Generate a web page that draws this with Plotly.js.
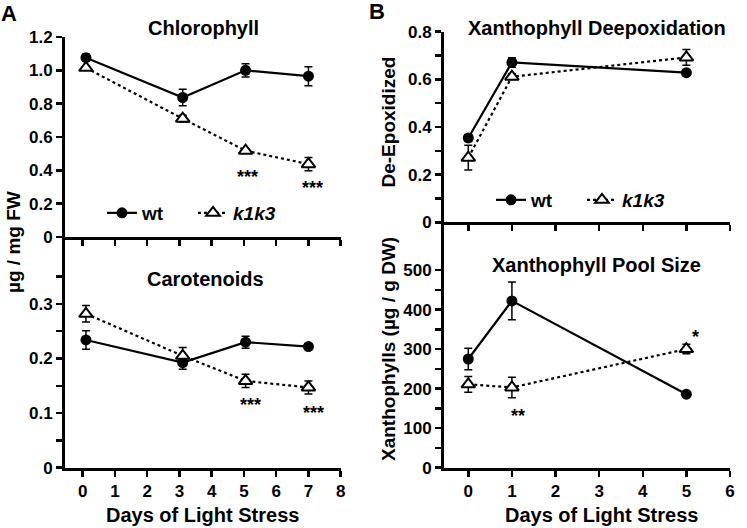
<!DOCTYPE html>
<html>
<head>
<meta charset="utf-8">
<script src="https://cdn.plot.ly/plotly-3.0.1.min.js"></script>
<style>
	html, body { margin: 0; padding: 0; background: #fff; }
	#chart { width: 747px; height: 528px; }
</style>
</head>
<body>
<div id="chart"></div>
<script>
(function(){

	'use strict';

	/*
	Panel A - days of light stress
	*/
	const daysA = [0.1, 3.1, 5.05, 7];

	const chlWt = [1.076, 0.837, 1.0, 0.965];
	const chlWtErr = [0.02, 0.05, 0.04, 0.057];
	const chlK = [1.015, 0.71, 0.518, 0.437];
	const chlKErr = [0.012, 0.02, 0.012, 0.04];

	const carWt = [0.234, 0.1925, 0.23, 0.222];
	const carWtErr = [0.017, 0.012, 0.011, 0.005];
	const carK = [0.282, 0.205, 0.159, 0.147];
	const carKErr = [0.015, 0.015, 0.012, 0.012];

	/*
	Panel B
	*/
	const daysB = [0, 1, 5];

	const deWt = [0.354, 0.671, 0.628];
	const deWtErr = [0.015, 0.02, 0.01];
	const deK = [0.271, 0.611, 0.692];
	const deKErr = [0.052, 0.012, 0.033];

	const poolWt = [275, 422, 186];
	const poolWtErr = [27, 48, 5];
	const poolK = [211, 203, 300];
	const poolKErr = [20, 26, 12];

	// significance stars
	const starsChl = { x: [5.1, 7.12], y: [0.393, 0.327], text: ['***', '***'] };
	const starsCar = { x: [5.2, 7.17], y: [0.124, 0.109], text: ['***', '***'] };
	const starsPool = { x: [1.13, 5.2], y: [144, 344], text: ['**', '*'] };

	// tick labels
	const ticksChl = [0, 0.2, 0.4, 0.6, 0.8, 1.0, 1.2];
	const ticksChlText = ['0', '0.2', '0.4', '0.6', '0.8', '1.0', '1.2'];
	const ticksCar = [0, 0.05, 0.1, 0.15, 0.2, 0.25, 0.3, 0.35];
	const ticksCarText = ['0', '', '0.1', '', '0.2', '', '0.3', ''];
	const ticksDe = [0, 0.1, 0.2, 0.3, 0.4, 0.5, 0.6, 0.7, 0.8];
	const ticksDeText = ['0', '', '0.2', '', '0.4', '', '0.6', '', '0.8'];
	const ticksPool = [0, 50, 100, 150, 200, 250, 300, 350, 400, 450, 500];
	const ticksPoolText = ['0', '', '100', '', '200', '', '300', '', '400', '', '500'];
	const ticksDaysA = [0, 1, 2, 3, 4, 5, 6, 7, 8];
	const ticksDaysB = [0, 1, 2, 3, 4, 5, 6];

	const W = 747, H = 528;
	const FONT = 'Liberation Sans, Arial, sans-serif';

	// pixel -> paper helpers
	const px = v => v / W;
	const py = v => 1 - v / H;

	const wtStyle = {
		mode: 'lines+markers',
		line: { color: '#000', width: 2.2 },
		marker: { symbol: 'circle', size: 11, color: '#000' },
	};
	const kStyle = {
		mode: 'lines+markers',
		line: { color: '#000', width: 2.2, dash: 'dot' },
		marker: { symbol: 'triangle-up', size: 12, color: '#fff', line: { color: '#000', width: 2 } },
	};

	const errBar = arr => ({ type: 'data', array: arr, visible: true, color: '#000', thickness: 1.5, width: 4 });

	const trace = ( style, x, y, err, xa, ya, name, legend, showlegend ) => Object.assign({
		type: 'scatter', x, y, name,
		error_y: errBar( err ),
		xaxis: xa, yaxis: ya,
		legend, showlegend,
		hoverinfo: 'skip',
		cliponaxis: false,
	}, style );

	const data = [
		trace( wtStyle, daysA, chlWt, chlWtErr, 'x2', 'y2', 'wt', 'legend', true ),
		trace( kStyle, daysA, chlK, chlKErr, 'x2', 'y2', '<i>k1k3</i>', 'legend', true ),
		trace( wtStyle, daysA, carWt, carWtErr, 'x', 'y', 'wt', 'legend', false ),
		trace( kStyle, daysA, carK, carKErr, 'x', 'y', 'k1k3', 'legend', false ),
		trace( wtStyle, daysB, deWt, deWtErr, 'x4', 'y4', 'wt', 'legend2', true ),
		trace( kStyle, daysB, deK, deKErr, 'x4', 'y4', '<i>k1k3</i>', 'legend2', true ),
		trace( wtStyle, daysB, poolWt, poolWtErr, 'x3', 'y3', 'wt', 'legend2', false ),
		trace( kStyle, daysB, poolK, poolKErr, 'x3', 'y3', 'k1k3', 'legend2', false ),
	];

	/*
	Axes - shared look
	*/
	const axisBase = {
		showgrid: false,
		zeroline: false,
		showline: true,
		linecolor: '#000',
		linewidth: 3,
		ticks: 'outside',
		ticklen: 6,
		tickwidth: 2.5,
		tickcolor: '#000',
		tickfont: { family: FONT, size: 17, color: '#000', weight: 'bold' },
		fixedrange: true,
	};

	const xA = [px(65), px(340.7)];
	const xB = [px(444), px(730)];

	const xaxis = ( domain, range, vals, anchor, labels ) => Object.assign({}, axisBase, {
		domain, range, anchor,
		tickmode: 'array', tickvals: vals, ticktext: vals.map(String),
		showticklabels: labels,
	});
	const yaxis = ( domain, range, vals, text, anchor ) => Object.assign({}, axisBase, {
		domain, range, anchor,
		tickmode: 'array', tickvals: vals, ticktext: text,
	});

	// annotations: titles + stars
	const label = ( text, x, y, size, extra ) => Object.assign({
		text, x: px(x), y: py(y), xref: 'paper', yref: 'paper',
		showarrow: false, xanchor: 'center', yanchor: 'middle',
		font: { family: FONT, size, color: '#000', weight: 'bold' },
	}, extra );

	const starNotes = ( s, xa, ya ) => s.text.map(( t, i ) => ({
		text: t, x: s.x[i], y: s.y[i], xref: xa, yref: ya,
		showarrow: false, yshift: -5,
		font: { family: FONT, size: 18, color: '#000', weight: 'bold' },
	}));

	const annotations = [
		label('A', 9, 14, 22),
		label('B', 377, 11, 22),
		label('Chlorophyll', 203, 28, 20),
		label('Carotenoids', 205.5, 279, 20),
		label('Xanthophyll Deepoxidation', 597, 28, 20),
		label('Xanthophyll Pool Size', 596.5, 265, 20),
		label('Days of Light Stress', 202.5, 515, 20),
		label('Days of Light Stress', 601, 515, 20),
		label('µg / mg FW', 14, 242, 19, { textangle: -90 }),
		label('De-Epoxidized', 387.5, 122, 19, { textangle: -90 }),
		label('Xanthophylls (µg / g DW)', 388, 349, 19, { textangle: -90 }),
		...starNotes( starsChl, 'x2', 'y2' ),
		...starNotes( starsCar, 'x', 'y' ),
		...starNotes( starsPool, 'x3', 'y3' ),
	];

	const legendBase = {
		orientation: 'h',
		xanchor: 'left', yanchor: 'middle',
		bgcolor: 'rgba(0,0,0,0)',
		borderwidth: 0,
		entrywidth: 46, entrywidthmode: 'pixels',
		font: { family: FONT, size: 19, color: '#000', weight: 'bold' },
	};

	const layout = {
		width: W, height: H,
		margin: { l: 0, r: 0, t: 0, b: 0 },
		paper_bgcolor: '#fff',
		plot_bgcolor: 'rgba(0,0,0,0)',
		font: { family: FONT, size: 16, color: '#000', weight: 'bold' },
		// A bottom (carotenoids), A top (chlorophyll)
		xaxis: xaxis( xA, [-0.55, 8], ticksDaysA, 'y', true ),
		yaxis: yaxis( [py(467.7), py(239)], [0, 0.419], ticksCar, ticksCarText, 'x' ),
		xaxis2: xaxis( xA, [-0.55, 8], ticksDaysA, 'y2', false ),
		yaxis2: yaxis( [py(237), py(37)], [0, 1.2], ticksChl, ticksChlText, 'x2' ),
		// B bottom (pool), B top (deepoxidation)
		xaxis3: xaxis( xB, [-0.557, 6], ticksDaysB, 'y3', true ),
		yaxis3: yaxis( [py(467.7), py(225)], [0, 614], ticksPool, ticksPoolText, 'x3' ),
		xaxis4: xaxis( xB, [-0.557, 6], ticksDaysB, 'y4', false ),
		yaxis4: yaxis( [py(222.3), py(31.7)], [0, 0.8], ticksDe, ticksDeText, 'x4' ),
		legend: Object.assign({ x: px(102), y: py(213) }, legendBase ),
		legend2: Object.assign({ x: px(491), y: py(200) }, legendBase ),
		annotations,
	};

	Plotly.newPlot('chart', data, layout, { displayModeBar: false, staticPlot: true });

})();
</script>
</body>
</html>
